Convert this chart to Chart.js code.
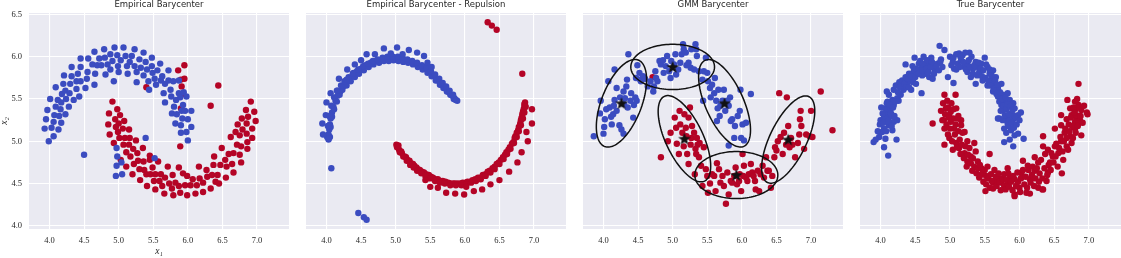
<!DOCTYPE html>
<html><head><meta charset="utf-8">
<script src="https://cdn.jsdelivr.net/npm/chart.js@4.4.0/dist/chart.umd.min.js"></script>
<style>
body{margin:0;background:#fff;width:1121px;height:258px;overflow:hidden;position:relative}
canvas{position:absolute;top:0}
</style></head><body>
<canvas id="c1" width="289" height="258" style="left:0px"></canvas>
<canvas id="c2" width="260" height="258" style="left:306px"></canvas>
<canvas id="c3" width="260" height="258" style="left:583px"></canvas>
<canvas id="c4" width="261" height="258" style="left:860px"></canvas>
<script>
// ---------- data ----------
const panelTitles = ["Empirical Barycenter", "Empirical Barycenter - Repulsion", "GMM Barycenter", "True Barycenter"];
const xTicks = [4.0, 4.5, 5.0, 5.5, 6.0, 6.5, 7.0];
const yTicks = [4.0, 4.5, 5.0, 5.5, 6.0, 6.5];

const empBlue = [[3.99,5.00],[3.93,5.15],[3.95,5.26],[3.97,5.37],[4.01,5.50],[4.06,5.06],[4.03,5.16],[4.06,5.23],[4.07,5.31],[4.09,5.41],[4.12,5.49],[4.09,5.64],[4.13,5.14],[4.14,5.30],[4.16,5.38],[4.17,5.46],[4.17,5.22],[4.18,5.56],[4.20,5.68],[4.21,5.78],[4.23,5.32],[4.24,5.50],[4.23,5.60],[4.28,5.41],[4.29,5.57],[4.30,5.68],[4.32,5.88],[4.32,5.77],[4.35,5.49],[4.39,5.62],[4.39,5.71],[4.41,5.80],[4.43,5.53],[4.45,5.88],[4.45,5.71],[4.45,5.98],[4.50,4.84],[4.52,5.63],[4.54,5.74],[4.55,5.82],[4.56,5.98],[4.62,5.91],[4.65,5.67],[4.65,6.06],[4.66,5.80],[4.69,5.90],[4.72,5.98],[4.75,5.90],[4.79,6.09],[4.80,5.99],[4.81,5.79],[4.84,5.91],[4.88,6.03],[4.88,5.85],[4.91,5.95],[4.93,5.71],[4.94,6.11],[4.98,6.02],[4.99,5.89],[5.00,5.82],[5.03,5.96],[5.07,6.11],[5.10,6.01],[5.12,5.89],[5.13,5.80],[5.16,5.94],[5.19,6.01],[5.23,6.09],[5.23,5.89],[5.26,5.70],[5.26,5.82],[5.30,5.97],[5.32,5.87],[5.36,6.05],[5.36,5.78],[5.39,5.94],[5.41,5.85],[5.43,5.71],[5.44,5.61],[5.48,5.99],[5.48,5.89],[5.49,5.81],[5.52,5.74],[5.54,5.67],[5.56,5.84],[5.60,5.92],[5.61,5.72],[5.63,5.77],[5.65,5.57],[5.67,5.46],[5.67,5.68],[5.72,5.72],[5.72,5.84],[5.75,5.61],[5.76,5.53],[5.77,5.33],[5.79,5.71],[5.80,5.41],[5.82,5.21],[5.83,5.49],[5.84,5.32],[5.87,5.57],[5.87,5.72],[5.89,5.52],[5.91,5.36],[5.90,5.19],[5.92,5.27],[5.90,5.10],[5.93,5.43],[5.94,5.58],[5.96,5.36],[5.98,5.53],[5.98,5.11],[6.00,5.26],[6.00,5.01],[6.05,5.36],[6.05,5.17],[5.39,5.04],[5.52,4.80],[4.97,4.92],[4.98,4.82],[4.97,4.71],[4.96,4.59],[5.04,4.75],[5.05,4.61]];
const empRed = [[5.95,5.90],[5.86,5.84],[5.95,5.74],[5.90,5.73],[5.91,5.65],[5.92,5.56],[5.90,5.39],[6.44,5.66],[6.33,5.42],[5.40,5.64],[5.89,4.94],[4.91,5.47],[4.86,5.33],[4.98,5.38],[4.95,5.26],[4.85,5.20],[5.02,5.31],[5.00,5.21],[5.08,5.24],[4.87,5.08],[4.96,5.17],[5.06,5.15],[4.99,5.11],[5.15,5.14],[4.93,4.98],[5.01,5.04],[5.09,5.04],[5.16,5.04],[5.25,5.01],[5.07,4.96],[5.15,4.96],[5.21,4.91],[5.35,4.92],[5.03,4.78],[5.11,4.87],[5.17,4.82],[5.27,4.86],[5.45,4.83],[5.11,4.70],[5.22,4.73],[5.28,4.77],[5.36,4.76],[5.45,4.78],[5.20,4.61],[5.30,4.67],[5.37,4.66],[5.49,4.69],[5.57,4.76],[5.31,4.54],[5.40,4.61],[5.46,4.61],[5.53,4.61],[5.61,4.61],[5.71,4.70],[5.41,4.47],[5.51,4.53],[5.59,4.53],[5.67,4.57],[5.78,4.60],[5.53,4.43],[5.63,4.47],[5.73,4.50],[5.82,4.51],[5.87,4.69],[5.66,4.38],[5.77,4.44],[5.87,4.47],[5.96,4.48],[5.79,4.36],[5.89,4.39],[5.99,4.36],[5.99,4.59],[5.93,4.62],[6.04,4.48],[6.07,4.55],[6.13,4.48],[6.11,4.38],[6.22,4.40],[6.17,4.56],[6.22,4.51],[6.16,4.70],[6.28,4.58],[6.33,4.44],[6.27,4.66],[6.35,4.60],[6.37,4.72],[6.40,4.52],[6.43,4.60],[6.45,4.50],[6.38,4.82],[6.47,4.72],[6.49,4.92],[6.55,4.57],[6.56,4.70],[6.54,4.78],[6.59,4.85],[6.62,5.05],[6.64,4.73],[6.66,4.63],[6.66,4.86],[6.69,5.11],[6.71,4.96],[6.72,5.20],[6.75,4.84],[6.75,5.07],[6.77,4.75],[6.77,4.94],[6.78,5.27],[6.79,5.14],[6.84,5.37],[6.86,4.99],[6.86,4.91],[6.87,5.29],[6.85,5.09],[6.85,5.21],[6.91,5.47],[6.93,5.04],[6.93,5.15],[6.96,5.35],[6.98,5.24]];

const repBlue = [[4.03,5.02],[4.03,5.08],[4.04,5.14],[4.05,5.20],[4.06,5.27],[4.08,5.34],[4.10,5.41],[4.13,5.48],[4.16,5.54],[4.20,5.59],[4.24,5.65],[4.28,5.69],[4.33,5.74],[4.38,5.78],[4.44,5.83],[4.50,5.86],[4.56,5.90],[4.64,5.93],[4.71,5.95],[4.78,5.96],[4.85,5.98],[4.92,5.98],[5.00,5.98],[5.07,5.97],[5.14,5.96],[5.21,5.94],[5.29,5.92],[5.36,5.89],[5.43,5.86],[5.49,5.82],[5.56,5.77],[5.61,5.72],[5.67,5.67],[5.72,5.63],[5.77,5.58],[5.82,5.54],[5.85,5.51],[5.89,5.48],[4.05,5.05],[4.06,5.17],[4.08,5.29],[4.11,5.38],[4.15,5.47],[4.19,5.55],[4.23,5.61],[4.29,5.66],[4.35,5.71],[4.41,5.76],[4.47,5.80],[4.54,5.84],[4.61,5.88],[4.68,5.91],[4.76,5.93],[4.83,5.95],[4.90,5.95],[4.97,5.96],[5.04,5.95],[5.11,5.94],[5.18,5.93],[5.25,5.91],[5.32,5.88],[5.39,5.85],[5.46,5.81],[5.52,5.77],[5.58,5.72],[5.64,5.67],[5.69,5.63],[5.74,5.59],[5.79,5.55],[5.84,5.50],[5.87,5.49],[4.01,5.05],[4.02,5.18],[4.04,5.30],[4.07,5.42],[4.11,5.52],[4.16,5.60],[4.21,5.66],[4.26,5.71],[4.32,5.76],[4.39,5.81],[4.46,5.85],[4.53,5.89],[4.60,5.92],[4.67,5.95],[4.74,5.97],[4.81,5.99],[4.88,6.00],[4.96,6.00],[5.03,6.00],[5.10,5.99],[5.17,5.97],[5.24,5.95],[5.31,5.93],[5.38,5.90],[5.45,5.87],[5.51,5.83],[5.57,5.79],[5.63,5.74],[5.68,5.69],[5.73,5.65],[5.78,5.60],[5.83,5.55],[4.00,5.46],[3.99,5.31],[3.94,5.21],[3.95,5.08],[4.03,5.03],[4.07,4.68],[4.46,4.15],[4.54,4.10],[4.58,4.07],[4.06,5.57],[4.15,5.60],[4.18,5.74],[4.29,5.73],[4.30,5.85],[4.41,5.91],[4.38,5.80],[4.50,5.96],[4.58,6.03],[4.70,6.03],[4.83,6.10],[4.93,6.04],[5.02,6.11],[5.10,6.03],[5.19,6.08],[5.31,6.05],[5.41,6.01],[5.46,5.93],[5.52,5.88]];
const repRed = [[5.01,4.96],[5.03,4.94],[5.05,4.90],[5.09,4.86],[5.13,4.82],[5.17,4.78],[5.22,4.74],[5.27,4.71],[5.32,4.67],[5.38,4.64],[5.44,4.61],[5.51,4.58],[5.57,4.55],[5.65,4.53],[5.72,4.52],[5.79,4.50],[5.86,4.50],[5.94,4.50],[6.01,4.51],[6.08,4.52],[6.15,4.55],[6.22,4.57],[6.30,4.61],[6.36,4.65],[6.43,4.70],[6.49,4.75],[6.55,4.81],[6.60,4.87],[6.65,4.93],[6.70,4.99],[6.73,5.06],[6.77,5.13],[6.80,5.21],[6.82,5.28],[6.84,5.35],[6.86,5.41],[6.86,5.44],[5.04,4.95],[5.08,4.88],[5.15,4.81],[5.20,4.77],[5.25,4.73],[5.30,4.69],[5.35,4.66],[5.41,4.63],[5.48,4.60],[5.54,4.57],[5.61,4.55],[5.68,4.53],[5.76,4.51],[5.83,4.50],[5.90,4.50],[5.97,4.51],[6.04,4.52],[6.11,4.54],[6.19,4.57],[6.26,4.60],[6.33,4.64],[6.40,4.68],[6.46,4.73],[6.52,4.78],[6.58,4.84],[6.63,4.90],[6.68,4.97],[6.72,5.04],[6.75,5.10],[6.78,5.17],[6.81,5.25],[6.83,5.32],[6.85,5.38],[6.87,5.46],[5.02,4.93],[5.06,4.87],[5.11,4.82],[5.16,4.77],[5.21,4.72],[5.26,4.69],[5.31,4.65],[5.37,4.62],[5.43,4.59],[5.50,4.56],[5.57,4.53],[5.64,4.51],[5.71,4.50],[5.79,4.48],[5.87,4.48],[5.95,4.48],[6.02,4.49],[6.09,4.51],[6.16,4.53],[6.23,4.55],[6.30,4.59],[6.37,4.63],[6.43,4.67],[6.50,4.73],[6.56,4.79],[6.61,4.85],[6.66,4.91],[6.71,4.98],[6.75,5.05],[6.78,5.12],[6.81,5.19],[6.84,5.27],[6.86,5.34],[6.88,5.41],[6.97,5.38],[6.97,5.21],[6.89,5.11],[6.91,5.00],[6.82,4.87],[6.76,4.75],[6.64,4.64],[6.50,4.54],[6.37,4.49],[6.25,4.43],[6.13,4.41],[5.99,4.37],[5.86,4.38],[5.73,4.39],[5.61,4.45],[5.50,4.46],[5.43,4.54],[6.02,4.46],[6.33,6.41],[6.39,6.37],[6.46,6.32],[6.83,5.80]];

const gmmBlue = [[3.86,5.06],[3.96,5.48],[3.95,5.33],[4.02,5.26],[4.00,5.09],[4.01,5.17],[4.04,5.38],[4.07,5.71],[4.09,5.40],[4.11,5.29],[4.12,5.20],[4.14,5.32],[4.15,5.42],[4.16,5.49],[4.16,5.85],[4.19,5.63],[4.19,5.36],[4.23,5.19],[4.24,5.52],[4.26,5.14],[4.29,5.59],[4.29,5.09],[4.30,5.44],[4.31,5.51],[4.33,5.65],[4.34,5.73],[4.35,5.40],[4.36,6.03],[4.39,5.48],[4.40,5.57],[4.43,5.28],[4.44,5.43],[4.46,5.52],[4.47,5.75],[4.48,5.48],[4.49,5.90],[4.52,5.81],[4.53,5.73],[4.54,5.71],[4.57,5.77],[4.60,5.74],[4.64,5.65],[4.68,5.71],[4.72,5.59],[4.73,5.65],[4.75,5.83],[4.76,5.75],[4.78,5.71],[4.81,5.95],[4.83,5.91],[4.86,5.96],[4.87,5.81],[4.90,5.89],[4.92,6.01],[4.95,5.83],[4.97,5.75],[4.98,5.95],[5.02,5.91],[5.04,6.03],[5.05,5.79],[5.08,5.85],[5.11,5.93],[5.13,6.03],[5.16,6.09],[5.15,6.15],[5.19,6.05],[5.20,5.90],[5.23,5.93],[5.26,5.87],[5.27,6.09],[5.31,5.85],[5.33,6.15],[5.34,6.09],[5.35,6.01],[5.38,5.83],[5.43,5.73],[5.44,5.48],[5.45,5.83],[5.48,5.99],[5.50,5.81],[5.51,5.71],[5.54,5.63],[5.55,5.52],[5.57,5.67],[5.60,5.57],[5.61,5.75],[5.63,5.48],[5.64,5.24],[5.65,5.39],[5.66,5.61],[5.68,5.30],[5.69,5.42],[5.72,5.48],[5.74,5.61],[5.76,5.36],[5.79,5.48],[5.81,5.42],[5.83,5.52],[5.84,5.24],[5.86,5.26],[5.89,5.04],[5.90,5.18],[5.94,5.30],[5.97,5.36],[5.98,5.61],[5.99,5.04],[6.01,5.20],[6.03,5.01],[6.06,5.22],[5.81,4.95],[6.13,5.56]];
const gmmRed = [[4.83,4.81],[4.93,5.00],[4.97,5.10],[5.03,5.28],[5.05,5.16],[5.06,4.97],[5.09,4.85],[5.10,5.36],[5.11,5.20],[5.14,5.10],[5.16,4.94],[5.17,5.32],[5.19,5.16],[5.20,5.06],[5.21,4.85],[5.23,5.28],[5.23,4.73],[5.25,5.40],[5.26,4.96],[5.27,5.04],[5.28,5.18],[5.31,5.10],[5.32,4.61],[5.33,4.91],[5.34,4.85],[5.35,5.04],[5.36,4.96],[5.38,4.81],[5.39,4.98],[5.41,4.71],[5.43,4.47],[5.45,4.93],[5.48,4.67],[5.50,4.59],[5.51,4.39],[5.54,4.50],[5.57,4.61],[5.60,4.59],[5.62,4.41],[5.64,4.74],[5.67,4.67],[5.69,4.51],[5.72,4.59],[5.74,4.47],[5.77,4.26],[5.79,4.63],[5.81,4.37],[5.84,4.53],[5.86,4.51],[5.89,4.59],[5.91,4.69],[5.93,4.49],[5.96,4.53],[5.97,4.61],[5.99,4.41],[6.01,4.85],[6.02,4.59],[6.03,4.71],[6.06,4.57],[6.08,4.53],[6.10,4.61],[6.13,4.73],[6.15,4.63],[6.17,4.59],[6.19,4.53],[6.20,4.43],[6.23,4.65],[6.25,4.41],[6.27,4.61],[6.30,4.71],[6.32,4.57],[6.35,4.81],[6.37,4.65],[6.39,4.65],[6.42,4.45],[6.44,4.59],[6.47,4.81],[6.48,4.93],[6.50,4.89],[6.52,5.00],[6.54,5.57],[6.56,5.05],[6.59,4.85],[6.61,5.10],[6.64,4.96],[6.65,5.52],[6.67,5.18],[6.69,4.93],[6.71,5.04],[6.73,4.96],[6.77,4.81],[6.81,4.98],[6.83,5.08],[6.84,5.26],[6.85,5.36],[6.86,5.18],[6.90,4.91],[6.93,5.08],[6.98,5.06],[7.00,5.36],[7.02,5.05],[7.14,5.59],[7.31,5.13],[4.71,5.76]];
const gmmMeans = [[4.26,5.45],[5.00,5.88],[5.75,5.45],[5.17,5.03],[5.92,4.60],[6.67,5.02]];
const gmmAxisA = [[0.242,0.512],[0.605,0.0],[0.278,-0.510],[0.290,-0.502],[0.600,0.0],[0.300,0.508]];
const gmmAxisB = [[0.271,-0.085],[0.0,0.268],[0.252,0.091],[0.245,0.094],[0.0,0.278],[0.240,-0.094]];

const trueBlue = [[4.00,5.25],[4.05,5.29],[4.10,5.33],[4.07,5.39],[4.01,5.40],[4.14,5.37],[4.19,5.43],[4.17,5.49],[4.24,5.51],[4.29,5.55],[4.10,5.47],[4.12,5.55],[4.09,5.59],[4.19,5.61],[4.22,5.66],[4.27,5.70],[4.31,5.72],[4.36,5.76],[4.39,5.70],[4.43,5.72],[4.46,5.78],[4.48,5.84],[4.36,5.91],[4.49,5.99],[4.62,6.00],[4.73,5.99],[4.55,5.92],[4.58,5.86],[4.63,5.88],[4.65,5.80],[4.70,5.76],[4.68,5.92],[4.75,5.90],[4.78,5.85],[4.82,5.92],[4.87,5.97],[4.60,5.78],[4.59,5.57],[4.75,5.74],[4.89,5.88],[4.85,6.13],[4.92,6.08],[4.44,5.61],[4.33,5.61],[4.46,5.89],[4.53,5.80],[5.00,6.00],[5.04,5.94],[5.06,5.86],[5.11,5.92],[5.13,6.04],[5.18,6.02],[5.16,5.96],[5.21,5.88],[5.25,5.92],[5.28,6.05],[5.25,5.82],[5.30,5.76],[5.33,5.86],[5.37,5.94],[5.40,5.88],[5.42,5.82],[5.50,5.99],[5.45,5.92],[5.54,5.88],[5.57,5.80],[5.47,5.72],[5.37,5.68],[5.62,5.84],[5.59,5.72],[5.64,5.68],[5.66,5.76],[5.54,5.66],[5.69,5.63],[5.74,5.68],[5.62,5.59],[5.69,5.53],[5.76,5.55],[5.83,5.57],[5.86,5.49],[5.78,5.47],[5.74,5.43],[5.91,5.45],[5.93,5.39],[5.88,5.33],[5.98,5.31],[6.02,5.34],[5.83,5.26],[5.91,5.26],[5.76,5.37],[5.71,5.27],[5.05,5.69],[4.97,5.76],[4.07,5.27],[4.14,5.29],[4.19,5.23],[4.24,5.25],[4.12,5.19],[4.05,5.15],[4.17,5.13],[3.98,5.05],[3.90,4.99],[4.07,5.03],[4.23,5.02],[4.05,4.93],[4.11,4.83],[4.02,5.11],[5.69,5.27],[5.76,5.25],[5.83,5.21],[5.78,5.15],[5.88,5.13],[5.93,5.07],[5.98,5.09],[6.06,5.03],[5.78,4.99],[5.91,4.94],[5.86,5.25],[5.91,5.31],[3.93,5.02],[3.96,5.12],[3.99,5.20],[4.03,5.33],[4.04,5.22],[4.08,5.12],[4.09,5.45],[4.11,5.24],[4.13,5.43],[4.15,5.33],[4.16,5.18],[4.18,5.40],[4.20,5.30],[4.21,5.47],[4.25,5.58],[4.26,5.48],[4.28,5.64],[4.30,5.66],[4.34,5.68],[4.37,5.64],[4.40,5.74],[4.41,5.80],[4.44,5.77],[4.47,5.70],[4.50,5.76],[4.51,5.86],[4.55,5.80],[4.57,5.95],[4.60,5.84],[4.61,5.92],[4.66,5.86],[4.67,5.96],[4.69,5.82],[4.72,5.88],[4.74,5.94],[4.77,5.80],[4.80,5.89],[4.84,5.84],[4.86,5.94],[4.41,5.64],[4.51,5.68],[5.02,5.90],[5.05,5.99],[5.09,5.85],[5.09,6.03],[5.14,5.88],[5.15,6.00],[5.19,5.94],[5.22,6.05],[5.23,5.85],[5.27,5.96],[5.29,5.88],[5.31,6.00],[5.33,5.80],[5.35,5.90],[5.39,5.78],[5.41,5.93],[5.44,5.86],[5.46,5.77],[5.48,5.84],[5.51,5.75],[5.52,5.91],[5.55,5.72],[5.57,5.85],[5.58,5.66],[5.60,5.78],[5.63,5.62],[5.65,5.72],[5.67,5.56],[5.68,5.67],[5.71,5.47],[5.72,5.58],[5.73,5.36],[5.75,5.50],[5.77,5.42],[5.79,5.31],[5.80,5.52],[5.81,5.38],[5.83,5.44],[5.84,5.18],[5.85,5.32],[5.87,5.41],[5.89,5.22],[5.90,5.37],[5.92,5.16],[5.95,5.28],[5.96,5.20],[6.00,5.25],[5.81,5.10],[5.86,5.02]];
const trueRed = [[4.92,5.55],[5.08,5.55],[4.96,5.48],[4.87,5.36],[4.94,5.39],[4.97,5.40],[5.01,5.35],[5.09,5.39],[4.91,5.25],[4.99,5.30],[5.05,5.27],[5.12,5.30],[5.16,5.25],[4.75,5.21],[6.85,5.68],[6.69,5.49],[6.80,5.47],[6.85,5.43],[6.73,5.39],[6.80,5.37],[6.89,5.37],[6.97,5.34],[6.60,5.31],[6.75,5.31],[6.82,5.28],[6.87,5.25],[6.68,5.26],[6.80,5.23],[4.89,5.25],[4.92,5.15],[5.01,5.23],[5.06,5.15],[5.11,5.27],[5.16,5.19],[5.21,5.11],[4.99,5.04],[4.92,4.96],[5.09,4.98],[5.13,4.92],[5.04,4.90],[5.25,5.00],[5.35,4.98],[5.21,4.86],[5.30,4.82],[5.37,4.88],[5.25,4.76],[5.40,4.76],[5.57,4.85],[5.45,4.68],[5.54,4.70],[5.64,4.66],[5.42,4.57],[5.52,4.59],[5.69,4.57],[5.62,4.51],[5.74,4.51],[5.83,4.68],[5.86,4.57],[5.78,4.47],[5.93,4.55],[6.03,4.63],[6.05,4.77],[6.00,4.45],[6.10,4.39],[5.93,4.37],[6.15,4.55],[6.22,4.65],[6.27,4.75],[6.27,4.45],[6.34,4.43],[6.39,4.53],[6.41,4.63],[6.44,4.75],[6.41,4.90],[6.48,4.82],[6.51,4.94],[6.56,4.86],[6.60,5.00],[6.63,4.78],[6.68,4.94],[6.73,5.06],[6.75,4.98],[6.65,5.10],[6.80,5.15],[6.85,5.21],[6.89,5.07],[6.51,5.15],[6.60,5.19],[6.34,4.94],[6.34,5.06],[6.82,5.31],[6.22,4.81],[6.12,4.71],[5.51,4.41],[5.93,4.35],[6.15,4.38],[6.61,4.62],[6.33,4.43],[6.98,5.32],[5.64,4.53],[5.83,4.49],[6.03,4.57],[4.90,5.45],[4.93,5.32],[4.95,5.20],[4.97,5.08],[4.98,5.28],[5.00,5.15],[5.02,5.45],[5.03,5.00],[5.05,5.38],[5.07,5.08],[5.08,5.20],[5.10,4.93],[5.12,5.12],[5.14,5.02],[5.15,4.85],[5.17,4.96],[5.18,5.10],[5.20,4.80],[5.22,4.94],[5.24,4.70],[5.26,4.84],[5.28,4.92],[5.30,4.74],[5.32,4.65],[5.33,4.80],[5.35,4.70],[5.38,4.62],[5.40,4.68],[5.43,4.72],[5.44,4.60],[5.47,4.63],[5.48,4.52],[5.50,4.66],[5.52,4.49],[5.55,4.56],[5.57,4.45],[5.59,4.61],[5.60,4.53],[5.62,4.44],[5.66,4.58],[5.67,4.47],[5.70,4.62],[5.71,4.52],[5.73,4.42],[5.76,4.56],[5.78,4.61],[5.80,4.43],[5.81,4.54],[5.84,4.62],[5.85,4.46],[5.88,4.52],[5.90,4.42],[5.91,4.59],[5.95,4.47],[5.97,4.63],[5.98,4.52],[6.01,4.40],[6.02,4.56],[6.05,4.66],[6.07,4.49],[6.09,4.58],[6.11,4.45],[6.13,4.66],[6.16,4.51],[6.18,4.60],[6.19,4.70],[6.21,4.47],[6.23,4.56],[6.25,4.68],[6.28,4.52],[6.29,4.62],[6.31,4.78],[6.33,4.56],[6.36,4.68],[6.37,4.85],[6.40,4.60],[6.42,4.72],[6.45,4.66],[6.46,4.86],[6.49,4.75],[6.52,4.82],[6.53,4.97],[6.55,4.70],[6.57,4.92],[6.59,5.05],[6.62,4.88],[6.64,5.00],[6.66,5.15],[6.68,5.04],[6.70,4.90],[6.71,5.20],[6.72,5.12],[6.74,5.28],[6.76,5.18],[6.77,5.04],[6.78,5.40],[6.79,5.34],[6.81,5.10],[6.83,5.50],[6.84,5.18],[6.86,5.40],[6.88,5.30],[6.91,5.22],[6.93,5.42]];

// ---------- styling ----------
const BLUE = '#3b4cc0';
const RED = '#b40426';
const BG = '#eaeaf2';
const TXT = '#262626';

const bgPlugin = {
  id: 'bg',
  beforeDraw(chart) {
    const a = chart.chartArea, ctx = chart.ctx;
    ctx.save(); ctx.fillStyle = BG;
    ctx.fillRect(a.left, a.top, a.right - a.left, a.bottom - a.top);
    ctx.restore();
  }
};

function toPts(arr) { return arr.map(p => ({x: p[0], y: p[1]})); }

function makeStar() {
  const c = document.createElement('canvas');
  c.width = 14; c.height = 14;
  const g = c.getContext('2d');
  g.fillStyle = '#111';
  g.beginPath();
  for (let i = 0; i < 10; i++) {
    const r = i % 2 === 0 ? 6.6 : 2.8;
    const ang = -Math.PI / 2 + i * Math.PI / 5;
    const px = 7 + r * Math.cos(ang), py = 7.5 + r * Math.sin(ang);
    if (i === 0) g.moveTo(px, py); else g.lineTo(px, py);
  }
  g.closePath(); g.fill();
  return c;
}

const ellipsePlugin = {
  id: 'gmmEllipses',
  afterDatasetDraw(chart, args) {
    if (!chart.options.plugins.gmmEllipses || !chart.options.plugins.gmmEllipses.on) return;
    if (args.index !== 1) return;
    const xs = chart.scales.x, ys = chart.scales.y, ctx = chart.ctx;
    const a = chart.chartArea;
    ctx.save();
    ctx.beginPath(); ctx.rect(a.left, a.top, a.right - a.left, a.bottom - a.top); ctx.clip();
    ctx.strokeStyle = '#111'; ctx.lineWidth = 1.5;
    for (let k = 0; k < gmmMeans.length; k++) {
      ctx.beginPath();
      for (let i = 0; i <= 120; i++) {
        const t = i / 120 * Math.PI * 2;
        const dx = gmmMeans[k][0] + Math.cos(t) * gmmAxisA[k][0] + Math.sin(t) * gmmAxisB[k][0];
        const dy = gmmMeans[k][1] + Math.cos(t) * gmmAxisA[k][1] + Math.sin(t) * gmmAxisB[k][1];
        const px = xs.getPixelForValue(dx), py = ys.getPixelForValue(dy);
        if (i === 0) ctx.moveTo(px, py); else ctx.lineTo(px, py);
      }
      ctx.closePath(); ctx.stroke();
    }
    ctx.restore();
  }
};

function makeChart(id, idx, datasets, opts) {
  const first = idx === 0;
  return new Chart(document.getElementById(id), {
    type: 'scatter',
    data: { datasets },
    plugins: [bgPlugin, ellipsePlugin],
    options: {
      responsive: false, animation: false, events: [],
      layout: { padding: 0, autoPadding: false },
      plugins: {
        legend: { display: false }, tooltip: { enabled: false },
        title: { display: true, text: panelTitles[idx], fullSize: false, color: TXT,
                 font: { family: 'DejaVu Sans', size: 8.5, weight: 'normal', lineHeight: 1.2 },
                 padding: { top: 0, bottom: 2.8 } },
        gmmEllipses: { on: !!(opts && opts.ellipses) }
      },
      elements: { point: { radius: 3.2, borderWidth: 0, hoverRadius: 3.2 } },
      scales: {
        x: {
          type: 'linear', min: 3.704, max: 7.462,
          afterBuildTicks: s => { s.ticks = xTicks.map(v => ({ value: v })); },
          afterFit: s => { s.height = 29; },
          grid: { color: '#ffffff', lineWidth: 1.1, drawTicks: false },
          border: { display: false },
          ticks: { color: TXT, padding: 7, font: { family: 'Liberation Serif', size: 8.5 },
                   callback: v => Number(v).toFixed(1), maxRotation: 0 },
          title: { display: first, text: 'x\u2081', color: TXT, padding: { top: 0, bottom: 1 },
                   font: { family: 'Liberation Serif', size: 9.5, style: 'italic', lineHeight: 1.2 } }
        },
        y: {
          type: 'linear', min: 3.961, max: 6.519,
          afterBuildTicks: s => { s.ticks = yTicks.map(v => ({ value: v })); },
          afterFit: s => { s.width = first ? 29 : 0; },
          grid: { color: '#ffffff', lineWidth: 1.1, drawTicks: false },
          border: { display: false },
          ticks: { display: first, color: TXT, padding: 7, font: { family: 'Liberation Serif', size: 8.5 },
                   callback: v => Number(v).toFixed(1) },
          title: { display: first, text: 'x\u2082', color: TXT, padding: { top: 0, bottom: 0 },
                   font: { family: 'Liberation Serif', size: 9.5, style: 'italic', lineHeight: 1.0 } }
        }
      }
    }
  });
}

function ds(arr, color, extra) {
  return Object.assign({ data: toPts(arr), backgroundColor: color, borderColor: color, pointRadius: 3.2, borderWidth: 0 }, extra || {});
}

makeChart('c1', 0, [ds(empBlue, BLUE), ds(empRed, RED)]);
makeChart('c2', 1, [ds(repBlue, BLUE), ds(repRed, RED)]);
const star = makeStar();
makeChart('c3', 2, [
  ds(gmmMeans, '#111', { pointStyle: star }),
  ds(gmmBlue, BLUE),
  ds(gmmRed, RED)
], { ellipses: true });
makeChart('c4', 3, [ds(trueBlue, BLUE), ds(trueRed, RED)]);
</script>
</body></html>
